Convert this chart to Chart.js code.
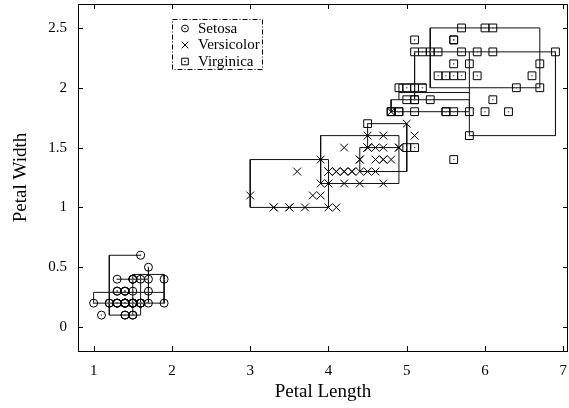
<!DOCTYPE html>
<html lang="en">
<head>
<meta charset="UTF-8" />
<title>Iris: Petal Length vs Petal Width</title>
<script src="https://cdn.jsdelivr.net/npm/chart.js"></script>
<style>
  html, body { margin: 0; padding: 0; background: #fff; }
  #wrap { width: 569px; height: 408px; }
</style>
</head>
<body>
<div id="wrap"><canvas id="iris" width="569" height="408"></canvas></div>
<script>
// petal length / petal width per species
const setosaLength = [1.4,1.4,1.3,1.5,1.4,1.7,1.4,1.5,1.4,1.5,1.5,1.6,1.4,1.1,1.2,1.5,1.3,1.4,1.7,1.5,1.7,1.5,1.0,1.7,1.9,1.6,1.6,1.5,1.4,1.6,1.6,1.5,1.5,1.4,1.5,1.2,1.3,1.4,1.3,1.5,1.3,1.3,1.3,1.6,1.9,1.4,1.6,1.4,1.5,1.4];
const setosaWidth  = [0.2,0.2,0.2,0.2,0.2,0.4,0.3,0.2,0.2,0.1,0.2,0.2,0.1,0.1,0.2,0.4,0.4,0.3,0.3,0.3,0.2,0.4,0.2,0.5,0.2,0.2,0.4,0.2,0.2,0.2,0.2,0.4,0.1,0.2,0.2,0.2,0.2,0.1,0.2,0.2,0.3,0.3,0.2,0.6,0.4,0.3,0.2,0.2,0.2,0.2];

const versicolorLength = [4.7,4.5,4.9,4.0,4.6,4.5,4.7,3.3,4.6,3.9,3.5,4.2,4.0,4.7,3.6,4.4,4.5,4.1,4.5,3.9,4.8,4.0,4.9,4.7,4.3,4.4,4.8,5.0,4.5,3.5,3.8,3.7,3.9,5.1,4.5,4.5,4.7,4.4,4.1,4.0,4.4,4.6,4.0,3.3,4.2,4.2,4.2,4.3,3.0,4.1];
const versicolorWidth  = [1.4,1.5,1.5,1.3,1.5,1.3,1.6,1.0,1.3,1.4,1.0,1.5,1.0,1.4,1.3,1.4,1.5,1.0,1.5,1.1,1.8,1.3,1.5,1.2,1.3,1.4,1.4,1.7,1.5,1.0,1.1,1.0,1.2,1.6,1.5,1.6,1.5,1.3,1.3,1.3,1.2,1.4,1.2,1.0,1.3,1.2,1.3,1.3,1.1,1.3];

const virginicaLength = [6.0,5.1,5.9,5.6,5.8,6.6,4.5,6.3,5.8,6.1,5.1,5.3,5.5,5.0,5.1,5.3,5.5,6.7,6.9,5.0,5.7,4.9,6.7,4.9,5.7,6.0,4.8,4.9,5.6,5.8,6.1,6.4,5.6,5.1,5.6,6.1,5.6,5.5,4.8,5.4,5.6,5.1,5.1,5.9,5.7,5.2,5.0,5.2,5.4,5.1];
const virginicaWidth  = [2.5,1.9,2.1,1.8,2.2,2.1,1.7,1.8,1.8,2.5,2.0,1.9,2.1,2.0,2.4,2.3,1.8,2.2,2.3,1.5,2.3,2.0,2.0,1.8,2.1,1.8,1.8,1.8,2.1,1.6,1.9,2.0,2.2,1.5,1.4,2.3,2.4,1.8,1.8,2.1,2.4,2.3,1.9,2.3,2.5,2.3,1.9,2.0,2.3,1.8];

// cluster boxes, as [length, width] corner paths
const setosaBoxes = [
  [[1.6,0.6],[1.2,0.6],[1.2,0.1],[1.6,0.1],[1.6,0.44]],
  [[1.0,0.2],[1.0,0.29],[1.9,0.29],[1.9,0.2],[1.0,0.2]],
  [[1.5,0.1],[1.5,0.44],[1.9,0.44],[1.9,0.29]],
  [[1.3,0.4],[1.7,0.4]],
  [[1.7,0.5],[1.7,0.2]]
];
const versicolorBoxes = [
  [[3.0,1.0],[4.0,1.0],[4.0,1.4],[3.0,1.4],[3.0,1.0]],
  [[3.9,1.2],[4.9,1.2],[4.9,1.6],[3.9,1.6],[3.9,1.2]],
  [[4.5,1.5],[4.5,1.7],[5.0,1.7],[5.0,1.3],[4.4,1.3],[4.4,1.5],[4.9,1.5]]
];
const virginicaBoxes = [
  [[5.3,2.0],[6.7,2.0],[6.7,2.5],[5.3,2.5],[5.3,2.0]],
  [[5.1,2.3],[6.9,2.3],[6.9,1.6],[5.8,1.6],[5.8,2.3]],
  [[4.8,1.8],[5.8,1.8],[5.8,1.9],[4.8,1.9],[4.8,1.8]],
  [[5.1,2.3],[5.1,1.9]],
  [[4.9,1.9],[4.9,2.03],[5.25,2.03]],
  [[4.9,1.96],[5.8,1.96]]
];

const xTicks = [1, 2, 3, 4, 5, 6, 7];
const yTicks = [0, 0.5, 1, 1.5, 2, 2.5];

const serif = "'Liberation Serif', 'DejaVu Serif', serif";
Chart.defaults.font.family = serif;
Chart.defaults.color = '#000';

function pts(xs, ys) {
  return xs.map((v, i) => ({ x: v, y: ys[i] }));
}

const series = [
  { label: 'Setosa',     data: pts(setosaLength, setosaWidth),         style: 'circle',   radius: 4,   dot: true },
  { label: 'Versicolor', data: pts(versicolorLength, versicolorWidth), style: 'crossRot', radius: 5.5, dot: false },
  { label: 'Virginica',  data: pts(virginicaLength, virginicaWidth),   style: 'rect',     radius: 5.5, dot: true }
];

const datasets = [];
series.forEach(s => {
  datasets.push({
    label: s.label, data: s.data, pointStyle: s.style, pointRadius: s.radius,
    borderColor: '#000', backgroundColor: 'rgba(0,0,0,0)', pointBorderWidth: 1, order: 1
  });
  if (s.dot) {
    datasets.push({
      label: s.label + ' centre', data: s.data, pointStyle: 'circle', pointRadius: 0.8,
      borderWidth: 0, backgroundColor: '#555', order: 1
    });
  }
});
[setosaBoxes, versicolorBoxes, virginicaBoxes].forEach(group => {
  group.forEach(path => {
    datasets.push({
      label: 'box', data: path.map(p => ({ x: p[0], y: p[1] })),
      showLine: true, pointRadius: 0, borderColor: '#111', borderWidth: 1,
      fill: false, tension: 0, order: 2
    });
  });
});

// gnuplot style frame with inward ticks
const framePlugin = {
  id: 'frame',
  afterDraw(chart) {
    const { ctx, chartArea: a, scales: { x, y } } = chart;
    ctx.save();
    ctx.strokeStyle = '#000';
    ctx.lineWidth = 1;
    ctx.strokeRect(a.left + 0.5, a.top + 0.5, a.right - a.left - 1, a.bottom - a.top);
    ctx.beginPath();
    xTicks.forEach(v => {
      const px = Math.round(x.getPixelForValue(v)) + 0.5;
      ctx.moveTo(px, a.bottom); ctx.lineTo(px, a.bottom - 5);
      ctx.moveTo(px, a.top); ctx.lineTo(px, a.top + 5);
    });
    yTicks.forEach(v => {
      const py = Math.round(y.getPixelForValue(v)) + 0.5;
      ctx.moveTo(a.left, py); ctx.lineTo(a.left + 5, py);
      ctx.moveTo(a.right, py); ctx.lineTo(a.right - 5, py);
    });
    ctx.stroke();
    ctx.restore();
  }
};

const legendPlugin = {
  id: 'boxLegend',
  afterDraw(chart) {
    const ctx = chart.ctx;
    ctx.save();
    ctx.strokeStyle = '#000';
    ctx.lineWidth = 1;
    ctx.setLineDash([5, 2, 1, 2]);
    ctx.strokeRect(172.5, 19.5, 90, 50);
    ctx.setLineDash([]);
    ctx.font = '15px ' + serif;
    ctx.textBaseline = 'middle';
    series.forEach((s, i) => {
      const cy = 28.5 + i * 16.5;
      ctx.fillStyle = 'rgba(0,0,0,0)';
      Chart.helpers.drawPoint(ctx, { pointStyle: s.style, radius: s.radius * 0.85, borderWidth: 1 }, 185, cy);
      ctx.fillStyle = '#000';
      if (s.dot) {
        ctx.beginPath(); ctx.arc(185, cy, 0.8, 0, Math.PI * 2); ctx.fill();
      }
      ctx.fillText(s.label, 198, cy + 0.5);
    });
    ctx.restore();
  }
};

// keep the plot box fixed: no extra room reserved for edge labels
function fixAxis(size, key) {
  return function (scale) {
    scale[key] = size;
    scale.paddingTop = 0; scale.paddingBottom = 0;
    scale.paddingLeft = 0; scale.paddingRight = 0;
  };
}

new Chart(document.getElementById('iris'), {
  type: 'scatter',
  data: { datasets: datasets },
  options: {
    responsive: false,
    animation: false,
    events: [],
    layout: { autoPadding: false, padding: { top: 4, right: 1, left: 0, bottom: 0 } },
    plugins: { legend: { display: false }, tooltip: { enabled: false } },
    scales: {
      x: {
        type: 'linear', min: 0.8, max: 7.06,
        grid: { display: false, drawTicks: false }, border: { display: false },
        ticks: { stepSize: 1, includeBounds: false, padding: 11, font: { size: 15 }, callback: v => String(v) },
        title: { display: true, text: 'Petal Length', font: { size: 19 }, padding: 5 },
        afterFit: fixAxis(57, 'height')
      },
      y: {
        type: 'linear', min: -0.2, max: 2.7,
        grid: { display: false, drawTicks: false }, border: { display: false },
        ticks: { stepSize: 0.5, includeBounds: false, padding: 11, font: { size: 15 }, callback: v => String(v) },
        title: { display: true, text: 'Petal Width', font: { size: 19 }, padding: 10 },
        afterFit: fixAxis(78, 'width')
      }
    }
  },
  plugins: [framePlugin, legendPlugin]
});
</script>
</body>
</html>
